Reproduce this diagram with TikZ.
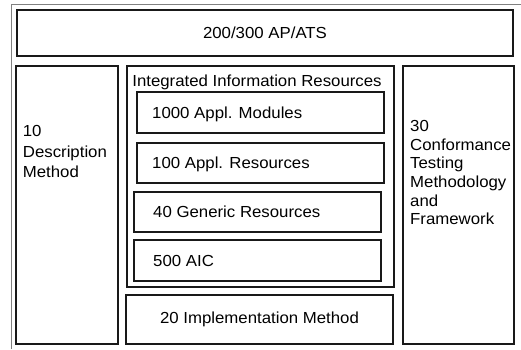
\documentclass[tikz,border=0pt]{standalone}
\usepackage{fontspec}
\setmainfont[FakeStretch=1.05]{Liberation Sans}
\begin{document}
\begin{tikzpicture}[x=1pt,y=-1pt,
  frameline/.style={draw=black!50, line width=0.9pt},
  box/.style={draw=black!90, line width=1.2pt, rectangle, inner sep=0pt},
  groupbox/.style={box, line width=1.6pt},
  lbl/.style={inner sep=0pt, font=\fontsize{16}{20}\selectfont},
  sidelbl/.style={lbl, anchor=north west, align=left}]
\useasboundingbox (0,0) rectangle (521,349);

% outer frame (only top and left edges survive)
\coordinate (fbl) at (11,349);
\coordinate (ftl) at (11,4);
\coordinate (ftr) at (521,4);
\draw[frameline] (fbl) -- (ftl) -- (ftr);

% application protocols across the top
\node[box, lbl, minimum width=496pt, minimum height=46pt] (ap) at (265,33) {200/300 AP/ATS};

% description methods on the left
\node[box, minimum width=102pt, minimum height=278pt] (desc) at (67,205) {};
\node[sidelbl, font=\fontsize{16}{20.5}\selectfont] (desctxt) at (22.7,125.3) {10\\Description\\Method};

% integrated information resources group
\node[groupbox, minimum width=267pt, minimum height=221pt] (iir) at (260.5,176.5) {};
\node[lbl, anchor=base] (iirtxt) at (257,86.5) {Integrated Information Resources};

\node[box, minimum width=247pt, minimum height=41pt] (mod) at (260.5,112.5) {};
\node[lbl, anchor=base west] (modtxt) at (152,118.2) {1000 Appl. Modules};

\node[box, minimum width=247pt, minimum height=40pt] (res) at (260.5,163) {};
\node[lbl, anchor=base west] (restxt) at (152,168.7) {100 Appl. Resources};

\node[box, minimum width=247pt, minimum height=40pt] (gen) at (257.5,212) {};
\node[lbl, anchor=base west] (gentxt) at (153,217.7) {40 Generic Resources};

\node[box, minimum width=247pt, minimum height=41pt] (aic) at (257.5,260.5) {};
\node[lbl, anchor=base west] (aictxt) at (153,266.2) {500 AIC};

% implementation methods
\node[box, lbl, minimum width=267pt, minimum height=49pt] (impl) at (259.5,319.5) {20 Implementation Method};

% conformance testing on the right
\node[box, minimum width=111pt, minimum height=278pt] (ctm) at (458.5,205) {};
\node[sidelbl, font=\fontsize{16}{18.7}\selectfont] (ctmtxt) at (410,120) {30\\Conformance\\Testing\\Methodology\\and\\Framework};
\end{tikzpicture}
\end{document}
